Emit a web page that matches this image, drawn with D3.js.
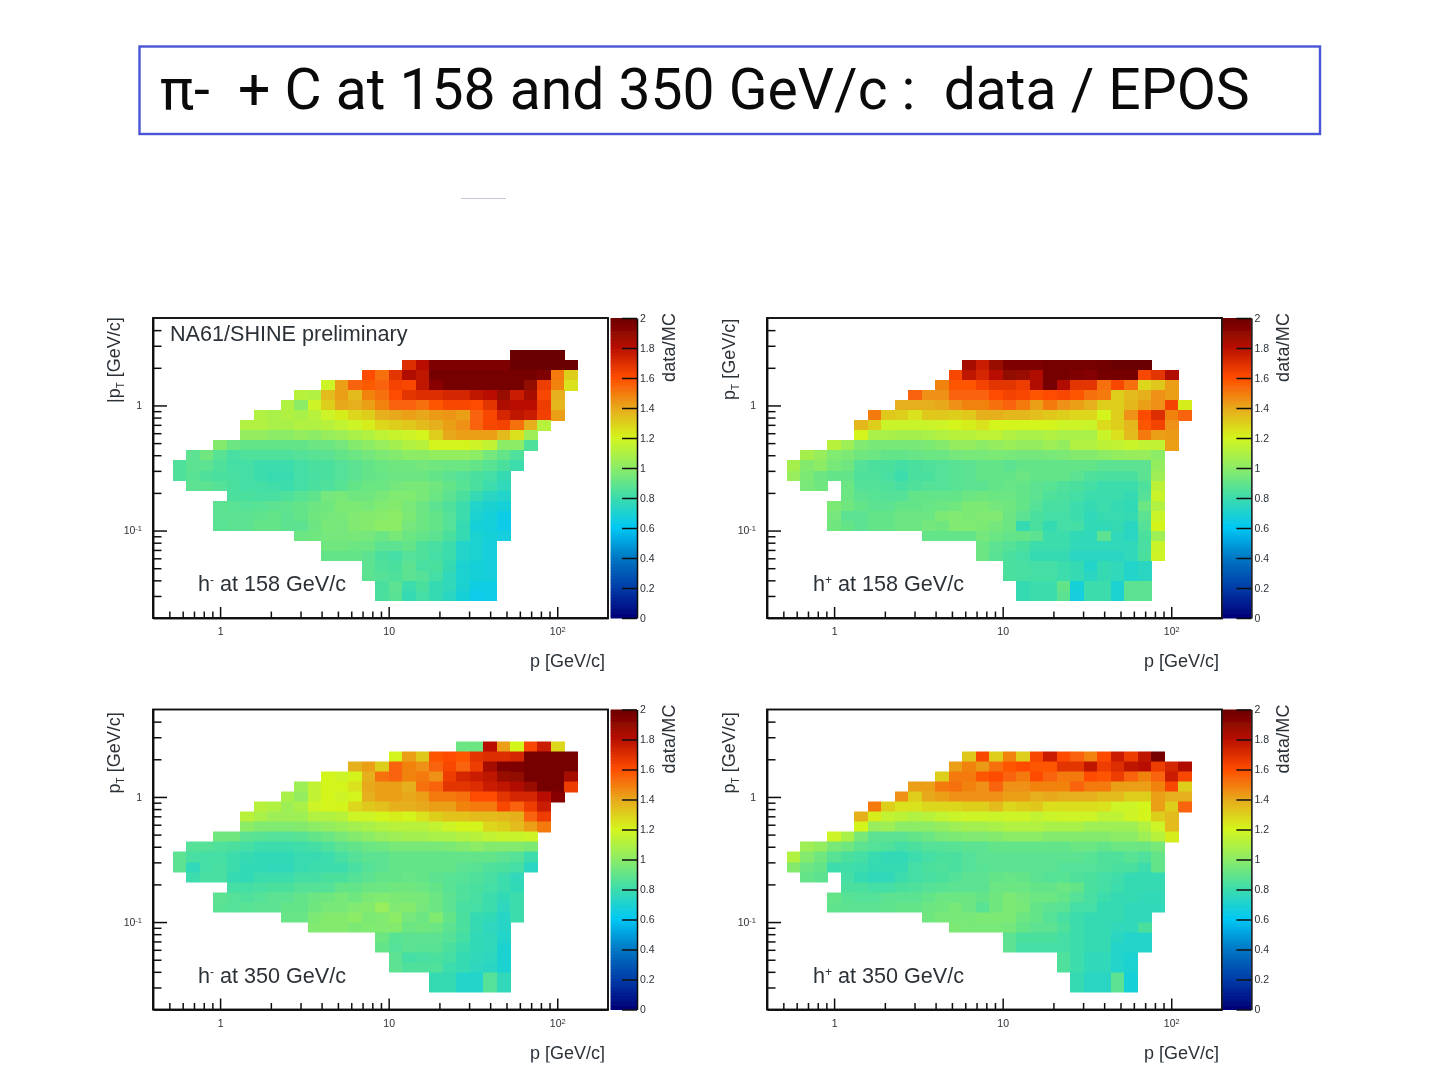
<html lang="en">
<head>
<meta charset="utf-8">
<title>pi- + C data / EPOS</title>
<script src="https://cdnjs.cloudflare.com/ajax/libs/d3/7.8.5/d3.min.js"></script>
<style>
	body { margin: 0; background-color: white; }
	svg { display: block; }
	.title { font-family: Roboto, sans-serif; font-size: 57px; fill: #0a0a0a; white-space: pre; }
	.axis path, .axis line { fill: none; stroke: #111; stroke-width: 1.5; }
	.axis text { font-family: "Liberation Sans", Arial, sans-serif; font-size: 10.5px; fill: #2c3238; }
	.frame { fill: none; stroke: #111; stroke-width: 1.9; }
	.label { font-family: "Liberation Sans", Arial, sans-serif; font-size: 18px; fill: #2c3238; }
	.note { font-family: "Liberation Sans", Arial, sans-serif; font-size: 21.6px; fill: #2c3238; }
</style>
</head>
<body>
<script>
// bin edges in log10, 0.08 per bin
var xEdgeStart = -0.28, yEdgeStart = -1.56, binStep = 0.08;
var xBins = 30, yBins = 25;

var xMajor = [1, 10, 100];
var xMinor = [0.5, 0.6, 0.7, 0.8, 0.9, 2, 3, 4, 5, 6, 7, 8, 9, 20, 30, 40, 50, 60, 70, 80, 90];
var yMajor = [0.1, 1];
var yMinor = [0.03, 0.04, 0.05, 0.06, 0.07, 0.08, 0.09, 0.2, 0.3, 0.4, 0.5, 0.6, 0.7, 0.8, 0.9, 2, 3, 4];
var barTicks = [0, 0.2, 0.4, 0.6, 0.8, 1, 1.2, 1.4, 1.6, 1.8, 2];

var paletteStops = [0, 0.2, 0.4, 0.6, 0.8, 1, 1.2, 1.4, 1.6, 1.8, 2];
var paletteColors = ["#000078", "#003ca8", "#0078c4", "#00c8f4", "#3cdcac", "#8cec66", "#d4f51e", "#e8a81c", "#ff4c00", "#b81000", "#6a0000"];

// first column of every row, rows go from the top down. null = empty bin
var minus158Start = [25,17,14,11,9,8,6,5,5,3,1,0,0,1,4,3,3,3,9,11,11,14,14,15,15];
var minus158 = [
[2,2,2,2],
[1.7,1.8,1.95,1.95,1.95,1.95,1.95,1.95,2,2,2,2,2],
[1.6,1.52,1.68,1.82,1.78,1.97,1.97,1.97,1.97,1.97,1.97,1.97,1.97,1.95,1.5,1.3],
[1.18,1.42,1.55,1.57,1.55,1.63,1.62,1.78,1.92,1.97,1.97,1.97,1.97,1.97,1.97,1.9,1.65,1.48,1.25],
[1.12,1.1,1.35,1.42,1.35,1.48,1.52,1.6,1.68,1.7,1.7,1.72,1.72,1.78,1.8,1.88,1.75,1.85,1.62,1.38],
[1.1,1.0,1.18,1.3,1.4,1.38,1.42,1.48,1.55,1.55,1.52,1.58,1.62,1.62,1.6,1.68,1.83,1.8,1.8,1.65,1.36],
[1.1,1.08,1.1,1.08,1.12,1.18,1.22,1.28,1.3,1.38,1.4,1.42,1.4,1.43,1.44,1.42,1.55,1.62,1.72,1.78,1.75,1.64,1.42],
[1.1,1.1,1.08,1.08,1.1,1.1,1.12,1.15,1.18,1.22,1.28,1.3,1.32,1.35,1.38,1.42,1.45,1.55,1.62,1.63,1.52,1.38,1.12],
[1.02,1.02,1.0,1.0,1.02,1.0,1.03,1.05,1.08,1.1,1.14,1.16,1.18,1.2,1.3,1.4,1.42,1.42,1.42,1.35,1.25,1.05],
[.98,.92,.9,.9,.9,.9,.9,.92,.92,.94,.98,1.0,1.03,1.06,1.1,1.12,1.2,1.2,1.2,1.18,1.15,1.0,1.0,.85],
[.88,.93,.87,.83,.85,.85,.85,.85,.86,.87,.88,.9,.92,.94,.96,.98,1.0,1.0,1.02,1.02,1.02,1.0,.94,.9,.85],
[.85,.88,.88,.85,.82,.82,.8,.8,.8,.82,.84,.84,.86,.88,.9,.92,.93,.93,.94,.93,.92,.92,.9,.87,.84,.8],
[.85,.87,.85,.84,.83,.82,.8,.79,.79,.82,.83,.84,.86,.88,.9,.91,.92,.92,.92,.9,.88,.86,.84,.82,.78],
[.88,.88,.86,.84,.82,.82,.81,.8,.82,.84,.85,.87,.9,.92,.92,.94,.95,.95,.93,.9,.87,.84,.8,.76],
[.84,.84,.83,.83,.85,.87,.89,.94,.95,.93,.93,.95,.97,.97,.95,.92,.88,.84,.78,.74,.72],
[.88,.87,.86,.87,.88,.89,.9,.92,.93,.96,.96,.95,.97,.98,.95,.92,.88,.85,.8,.72,.7,.68],
[.88,.88,.88,.89,.9,.88,.9,.93,.94,.95,.97,.98,.99,1.0,.96,.92,.9,.86,.8,.7,.68,.64],
[.87,.88,.88,.9,.9,.88,.88,.92,.95,.94,.97,.98,1.0,1.0,.94,.92,.9,.86,.78,.68,.67,.63],
[.92,.93,.94,.94,.95,.94,.92,.95,.92,.9,.88,.84,.78,.7,.68,.66],
[.93,.93,.92,.92,.88,.88,.9,.85,.83,.8,.72,.7,.67],
[.9,.9,.9,.88,.84,.82,.86,.85,.82,.8,.72,.7,.67],
[.88,.85,.84,.88,.83,.84,.78,.7,.68,.67],
[.88,.86,.85,.88,.86,.82,.76,.7,.68,.67],
[.84,.88,.8,.84,.78,.76,.7,.65,.65],
[.84,.87,.78,.82,.78,.74,.68,.63,.64]
];

var plus158Start = [30,13,12,11,9,8,6,5,5,3,1,0,0,1,4,3,3,3,10,14,14,16,16,17,17];
var plus158 = [
[],
[1.85,1.75,1.88,1.95,1.95,1.95,1.97,1.97,1.97,1.97,1.98,2,2,2],
[1.62,1.78,1.72,1.8,1.9,1.88,1.82,1.97,1.97,1.95,1.93,1.97,1.97,1.97,1.62,1.68,1.82],
[1.48,1.58,1.58,1.63,1.68,1.68,1.65,1.82,1.97,1.82,1.68,1.68,1.52,1.62,1.52,1.28,1.32,1.42],
[1.55,1.45,1.45,1.55,1.55,1.55,1.6,1.63,1.62,1.58,1.6,1.62,1.58,1.52,1.5,1.3,1.35,1.38,1.45,1.42],
[1.38,1.38,1.38,1.4,1.45,1.48,1.48,1.52,1.55,1.5,1.42,1.5,1.45,1.42,1.38,1.3,1.3,1.36,1.42,1.45,1.63,1.22],
[1.5,1.32,1.3,1.25,1.32,1.32,1.3,1.32,1.38,1.38,1.36,1.36,1.34,1.32,1.3,1.28,1.28,1.2,1.3,1.45,1.6,1.7,1.48,1.55],
[1.36,1.3,1.17,1.17,1.17,1.17,1.18,1.2,1.22,1.25,1.2,1.2,1.2,1.2,1.2,1.18,1.18,1.17,1.27,1.3,1.36,1.58,1.63,1.45],
[1.2,1.08,1.08,1.07,1.07,1.08,1.1,1.12,1.12,1.14,1.14,1.1,1.08,1.08,1.1,1.08,1.08,1.08,1.17,1.25,1.35,1.5,1.42,1.43],
[1.12,1.05,.97,.95,.95,.95,.95,.96,.98,1.02,1.02,1.0,1.02,1.04,1.02,1.02,1.05,1.02,1.1,1.1,1.13,1.15,1.17,1.15,1.15,1.42],
[1.07,1.03,.97,.96,.93,.92,.9,.9,.91,.92,.92,.94,.95,.95,.96,.95,.94,.94,.95,.96,.98,.98,1.0,1.02,1.03,1.03,1.0],
[1.07,.98,1.0,.95,.93,.86,.84,.84,.82,.84,.85,.86,.87,.88,.9,.9,.88,.9,.9,.9,.9,.9,.9,.88,.88,.88,.88,1.02],
[1.03,.96,.92,.9,.9,.85,.85,.83,.8,.84,.84,.86,.87,.88,.9,.9,.9,.92,.9,.9,.9,.88,.85,.84,.84,.84,.88,1.05],
[.95,.93,null,.92,.86,.86,.85,.83,.85,.86,.86,.87,.88,.88,.9,.91,.9,.88,.87,.85,.84,.82,.8,.8,.8,.85,1.13],
[.92,.88,.87,.86,.86,.9,.9,.9,.9,.92,.93,.92,.92,.9,.88,.85,.84,.82,.8,.8,.8,.78,.86,1.17],
[.96,.93,.9,.88,.88,.9,.9,.91,.92,.93,.96,.96,.94,.93,.9,.86,.83,.83,.8,.78,.8,.78,.77,.92,1.1],
[.94,.88,.88,.9,.9,.92,.92,.92,.96,.97,.96,.97,.97,.92,.88,.84,.82,.82,.8,.76,.79,.79,.78,.88,1.17],
[.93,.9,.88,.9,.9,.92,.92,.94,.93,.97,.97,.96,.94,.92,.78,.84,.78,.82,.82,.77,.77,.78,.74,.86,1.2],
[.9,.9,.9,.9,.94,.92,.9,.9,.88,.8,.8,.77,.76,.88,.76,.74,.84,1.05],
[.92,.88,.86,.84,.8,.8,.8,.76,.76,.76,.76,.76,.83,1.17],
[.92,.87,.84,.82,.78,.78,.78,.74,.74,.74,.74,.76,.84,1.18],
[.84,.83,.82,.82,.8,.78,.72,.78,.76,.72,.74],
[.84,.83,.82,.82,.8,.78,.74,.78,.76,.72,.74],
[.78,.8,.8,.9,.68,.8,.8,.7,.88,.88],
[.78,.8,.8,.88,.66,.8,.8,.7,.88,.88]
];

var minus350Start = [21,16,13,11,9,8,6,5,5,3,1,0,0,1,4,3,3,8,10,15,15,16,16,19,19];
var minus350 = [
[.92,.92,1.8,1.42,1.2,1.62,1.75,1.28],
[1.2,1.42,1.32,1.58,1.6,1.58,1.68,1.7,1.7,1.72,1.97,1.97,1.97,1.97],
[1.38,1.42,1.3,1.55,1.48,1.45,1.55,1.62,1.55,1.65,1.85,1.95,1.95,1.97,1.97,1.97,1.97],
[1.2,1.18,1.2,1.38,1.52,1.55,1.48,1.5,1.45,1.65,1.72,1.75,1.78,1.88,1.9,1.97,1.97,1.97,1.85],
[1.05,1.15,1.2,1.2,1.25,1.4,1.42,1.42,1.38,1.52,1.55,1.68,1.68,1.7,1.75,1.78,1.82,1.88,1.97,1.97,1.65],
[1.08,1.02,1.15,1.2,1.18,1.2,1.38,1.42,1.42,1.4,1.42,1.5,1.5,1.52,1.6,1.6,1.68,1.72,1.72,1.8,1.92],
[1.12,1.1,1.05,1.08,1.18,1.2,1.2,1.28,1.32,1.34,1.38,1.38,1.4,1.42,1.42,1.48,1.5,1.5,1.62,1.55,1.65,1.75],
[1.12,1.08,1.05,1.05,1.05,1.1,1.1,1.12,1.18,1.18,1.2,1.22,1.2,1.25,1.3,1.33,1.33,1.35,1.35,1.36,1.38,1.55,1.65],
[1.0,.97,.97,.97,.98,1.0,1.02,1.04,1.06,1.08,1.1,1.12,1.12,1.12,1.15,1.18,1.2,1.2,1.28,1.3,1.35,1.42,1.5],
[.93,.93,.88,.87,.86,.86,.87,.9,.92,.95,.98,1.0,1.03,1.05,1.06,1.06,1.08,1.08,1.1,1.12,1.15,1.16,1.16,1.18],
[.86,.86,.85,.84,.82,.8,.8,.8,.81,.82,.85,.88,.9,.92,.93,.95,.95,.95,.95,.96,.98,1.0,.98,.98,.98,.96],
[.88,.83,.82,.82,.8,.78,.77,.77,.77,.79,.79,.8,.83,.86,.88,.88,.9,.9,.9,.9,.9,.9,.9,.9,.88,.86,.8],
[.88,.76,.82,.83,.8,.77,.77,.76,.76,.79,.8,.8,.8,.83,.86,.88,.9,.9,.9,.9,.9,.88,.87,.85,.84,.82,.74],
[.8,.83,.83,.78,.77,.8,.8,.8,.82,.82,.84,.84,.86,.88,.9,.9,.91,.9,.88,.87,.86,.85,.83,.8,.76],
[.82,.82,.83,.84,.84,.86,.86,.86,.9,.9,.92,.92,.93,.93,.92,.9,.87,.85,.84,.82,.8,.77],
[.88,.86,.85,.86,.88,.88,.9,.92,.93,.95,.93,.96,.97,.96,.95,.95,.92,.88,.85,.83,.8,.77,.8],
[.87,.86,.87,.88,.88,.9,.9,.93,.95,.95,.97,.98,1.03,.97,.98,.94,.92,.88,.83,.82,.8,.75,.8],
[.91,.91,.96,.98,.98,1.0,.96,.97,1.0,.94,.92,.97,.9,.84,.78,.77,.73,.8],
[.97,.98,.98,.96,.97,.97,.98,.92,.93,.92,.88,.84,.78,.75,.73],
[.92,.87,.88,.88,.88,.86,.82,.77,.76,.72],
[.9,.86,.88,.87,.87,.84,.8,.77,.76,.7],
[.88,.82,.83,.84,.82,.78,.76,.75,.7],
[.88,.85,.85,.85,.8,.78,.75,.74,.7],
[.78,.78,.72,.72,.86,.76],
[.78,.78,.72,.72,.86,.76]
];

var plus350Start = [30,13,12,11,9,8,6,5,5,3,1,0,0,1,4,3,3,10,12,16,16,20,20,21,21];
var plus350 = [
[],
[1.32,1.62,1.3,1.48,1.3,1.62,1.75,1.6,1.55,1.48,1.6,1.75,1.65,1.78,1.97],
[1.42,1.48,1.43,1.52,1.58,1.6,1.58,1.58,1.68,1.68,1.78,1.65,1.7,1.78,1.8,1.65,1.72,1.82],
[1.3,1.5,1.5,1.58,1.6,1.55,1.5,1.6,1.55,1.5,1.5,1.6,1.58,1.65,1.55,1.48,1.55,1.75,1.62],
[1.42,1.42,1.5,1.52,1.48,1.45,1.55,1.45,1.45,1.48,1.48,1.48,1.55,1.5,1.5,1.42,1.42,1.42,1.48,1.62,1.3],
[1.45,1.3,1.4,1.42,1.45,1.45,1.45,1.45,1.42,1.42,1.38,1.4,1.38,1.38,1.38,1.35,1.35,1.3,1.3,1.42,1.38,1.38],
[1.5,1.3,1.25,1.25,1.28,1.28,1.28,1.3,1.3,1.35,1.28,1.3,1.32,1.26,1.26,1.26,1.26,1.25,1.18,1.18,1.2,1.42,1.3,1.55],
[1.38,1.22,1.15,1.13,1.1,1.12,1.15,1.17,1.18,1.18,1.17,1.18,1.18,1.15,1.17,1.18,1.18,1.18,1.14,1.14,1.18,1.2,1.3,1.35],
[1.2,1.03,1.05,1.0,1.0,1.0,1.02,1.05,1.06,1.06,1.08,1.1,1.1,1.1,1.08,1.08,1.08,1.05,1.05,1.05,1.05,1.1,1.18,1.35],
[1.18,1.08,.95,.88,.88,.88,.9,.92,.95,.96,.97,.97,.98,1.0,1.0,1.0,.98,.98,.98,.98,.98,1.0,1.0,1.05,1.12,1.22],
[1.05,1.02,.95,.93,.88,.86,.85,.82,.84,.86,.86,.87,.88,.88,.9,.9,.9,.9,.9,.9,.92,.92,.9,.92,.92,.92,.95],
[1.1,.98,.93,.87,.84,.82,.79,.77,.77,.8,.82,.84,.84,.86,.88,.88,.88,.88,.88,.88,.88,.88,.87,.85,.85,.87,.85,.9],
[.98,.92,.9,.8,.81,.8,.78,.78,.78,.82,.84,.85,.84,.86,.87,.88,.88,.88,.88,.88,.86,.86,.86,.85,.84,.84,.8,.9],
[.9,.88,null,.82,.78,.76,.76,.8,.82,.83,.84,.86,.88,.88,.9,.91,.9,.88,.86,.87,.85,.84,.82,.81,.78,.78,.78],
[.84,.84,.82,.82,.84,.85,.86,.87,.88,.88,.88,.92,.92,.92,.9,.9,.92,.9,.84,.82,.8,.78,.78,.78],
[.9,.87,.86,.86,.88,.88,.88,.9,.92,.92,.92,.9,.93,.96,.94,.92,.92,.9,.86,.83,.8,.78,.78,.77,.77],
[.89,.88,.88,.88,.89,.9,.9,.92,.93,.95,.92,.87,.93,.96,.95,.9,.88,.87,.82,.82,.78,.78,.76,.76,.76],
[.93,.95,.95,.95,.96,.96,.96,.92,.9,.86,.83,.8,.78,.78,.78,.76,.76],
[.96,.95,.95,.95,.94,.9,.88,.88,.85,.8,.78,.78,.76,.76,.84],
[.88,.84,.84,.84,.82,.8,.78,.78,.74,.72,.72],
[.88,.82,.82,.82,.82,.8,.78,.78,.72,.72,.72],
[.85,.8,.76,.76,.72,.7],
[.85,.8,.76,.76,.72,.7],
[.78,.74,.74,.88,.68],
[.78,.74,.74,.88,.68]
];

var fullwidth = 1456, fullheight = 1091;

var svg = d3.select("body").append("svg")
	.attr("width", fullwidth)
	.attr("height", fullheight);

// the source is a soft, upscaled bitmap
svg.append("filter").attr("id", "soft")
	.append("feGaussianBlur").attr("stdDeviation", 0.6);

svg.append("rect")
	.attr("x", 139.5).attr("y", 46.5)
	.attr("width", 1180.5).attr("height", 87.5)
	.attr("fill", "none").attr("stroke", "#4a55d6").attr("stroke-width", 2.4);

svg.append("text").attr("class", "title")
	.attr("x", 160).attr("y", 109)
	.text("π-  + C at 158 and 350 GeV/c :  data / EPOS");

// leftover of the slide, a small smudge under the title
svg.append("line")
	.attr("x1", 461).attr("x2", 506).attr("y1", 198.5).attr("y2", 198.5)
	.attr("stroke", "#c4c6dc").attr("stroke-width", 1.2);

var color = d3.scaleLinear().domain(paletteStops).range(paletteColors);

function logTick(d) {
	if (d === 0.1) return ["10", "-1"];
	if (d === 100) return ["10", "2"];
	return [String(d), ""];
}

function superLabels(sel) {
	sel.selectAll(".tick text").each(function(d) {
		var parts = logTick(d);
		var t = d3.select(this).text(parts[0]);
		if (parts[1]) {
			t.append("tspan").attr("dy", "-0.45em").style("font-size", "7.5px").text(parts[1]);
		}
	});
}

function drawPanel(cfg) {
	var left = cfg.left, top = cfg.top;
	var width = 455, height = 300;

	var g = svg.append("g")
		.attr("transform", "translate(" + left + "," + top + ")")
		.attr("filter", "url(#soft)");

	var xScale = d3.scaleLog().domain([0.4, 200]).range([0, width]);
	var yScale = d3.scaleLog().domain([0.02, 5]).range([height, 0]);

	var cells = [];
	cfg.rows.forEach(function(row, r) {
		row.forEach(function(v, i) {
			if (v !== null) cells.push({ col: cfg.starts[r] + i, row: yBins - 1 - r, value: v });
		});
	});

	function xEdge(k) { return xScale(Math.pow(10, xEdgeStart + binStep * k)); }
	function yEdge(k) { return yScale(Math.pow(10, yEdgeStart + binStep * k)); }

	// slight overlap so no seams show between the bins
	g.selectAll("rect.cell")
		.data(cells)
		.enter()
		.append("rect")
		.attr("class", "cell")
		.attr("x", function(d) { return xEdge(d.col); })
		.attr("y", function(d) { return yEdge(d.row + 1); })
		.attr("width", function(d) { return xEdge(d.col + 1) - xEdge(d.col) + 0.6; })
		.attr("height", function(d) { return yEdge(d.row) - yEdge(d.row + 1) + 0.6; })
		.attr("fill", function(d) { return color(d.value); })
		.attr("shape-rendering", "crispEdges");

	var xAxis = g.append("g").attr("class", "axis")
		.attr("transform", "translate(0," + height + ")");
	xAxis.append("g").call(d3.axisBottom(xScale).tickValues(xMinor).tickSizeInner(-6.5).tickSizeOuter(0).tickFormat(""));
	var xBig = xAxis.append("g").call(d3.axisBottom(xScale).tickValues(xMajor).tickSizeInner(-11).tickSizeOuter(0).tickPadding(10));
	superLabels(xBig);

	var yAxis = g.append("g").attr("class", "axis");
	yAxis.append("g").call(d3.axisLeft(yScale).tickValues(yMinor).tickSizeInner(-8.5).tickSizeOuter(0).tickFormat(""));
	var yBig = yAxis.append("g").call(d3.axisLeft(yScale).tickValues(yMajor).tickSizeInner(-14).tickSizeOuter(0).tickPadding(11));
	superLabels(yBig);

	g.append("rect").attr("class", "frame")
		.attr("width", width).attr("height", height);

	// colour bar
	var barScale = d3.scaleLinear().domain([0, 2]).range([height, 0]);
	var barX = width + cfg.barGap, barW = cfg.barWidth;
	var bar = g.append("g").attr("transform", "translate(" + barX + ",0)");
	var strips = d3.range(0, 2, 0.01);
	bar.selectAll("rect")
		.data(strips)
		.enter()
		.append("rect")
		.attr("x", 0)
		.attr("width", barW)
		.attr("y", function(d) { return barScale(d + 0.01); })
		.attr("height", barScale(0) - barScale(0.01) + 0.5)
		.attr("fill", function(d) { return color(d); });
	bar.append("g").attr("class", "axis")
		.attr("transform", "translate(" + barW + ",0)")
		.call(d3.axisRight(barScale).tickValues(barTicks).tickSizeInner(-15).tickSizeOuter(0).tickPadding(3).tickFormat(function(d) { return String(d); }));

	bar.append("text").attr("class", "label")
		.attr("transform", "translate(" + (barW + 38) + ",64) rotate(-90)")
		.attr("textLength", 69)
		.text("data/MC");

	g.append("text").attr("class", "label")
		.attr("x", width - 3).attr("y", 349)
		.style("text-anchor", "end")
		.text("p [GeV/c]");

	var yl = g.append("text").attr("class", "label")
		.attr("transform", "translate(" + cfg.yLabelX + "," + cfg.yLabelEnd + ") rotate(-90)")
		.style("text-anchor", "start");
	yl.append("tspan").text(cfg.yPrefix + "p");
	yl.append("tspan").attr("dy", 4).style("font-size", "10px").text("T");
	yl.append("tspan").attr("dy", -4).text(" [GeV/c]");

	var note = g.append("text").attr("class", "note")
		.attr("x", cfg.noteX).attr("y", 273);
	note.append("tspan").text("h");
	note.append("tspan").attr("dy", -7).style("font-size", "12px").text(cfg.sign);
	note.append("tspan").attr("dy", 7).text(" at " + cfg.energy + " GeV/c");

	if (cfg.preliminary) {
		g.append("text").attr("class", "note")
			.attr("x", 17).attr("y", 23)
			.text("NA61/SHINE preliminary");
	}
}

drawPanel({ left: 153, top: 318, starts: minus158Start, rows: minus158, barGap: 2.6, barWidth: 26.4,
	yLabelX: -33, yLabelEnd: 85, yPrefix: "|", sign: "-", energy: "158", noteX: 45, preliminary: true });
drawPanel({ left: 767, top: 318, starts: plus158Start, rows: plus158, barGap: 0.8, barWidth: 28.6,
	yLabelX: -32, yLabelEnd: 82, yPrefix: "", sign: "+", energy: "158", noteX: 46 });
drawPanel({ left: 153, top: 709.5, starts: minus350Start, rows: minus350, barGap: 2.6, barWidth: 26.4,
	yLabelX: -33, yLabelEnd: 84, yPrefix: "", sign: "-", energy: "350", noteX: 45 });
drawPanel({ left: 767, top: 709.5, starts: plus350Start, rows: plus350, barGap: 0.8, barWidth: 28.6,
	yLabelX: -32, yLabelEnd: 84, yPrefix: "", sign: "+", energy: "350", noteX: 46 });
</script>
</body>
</html>
